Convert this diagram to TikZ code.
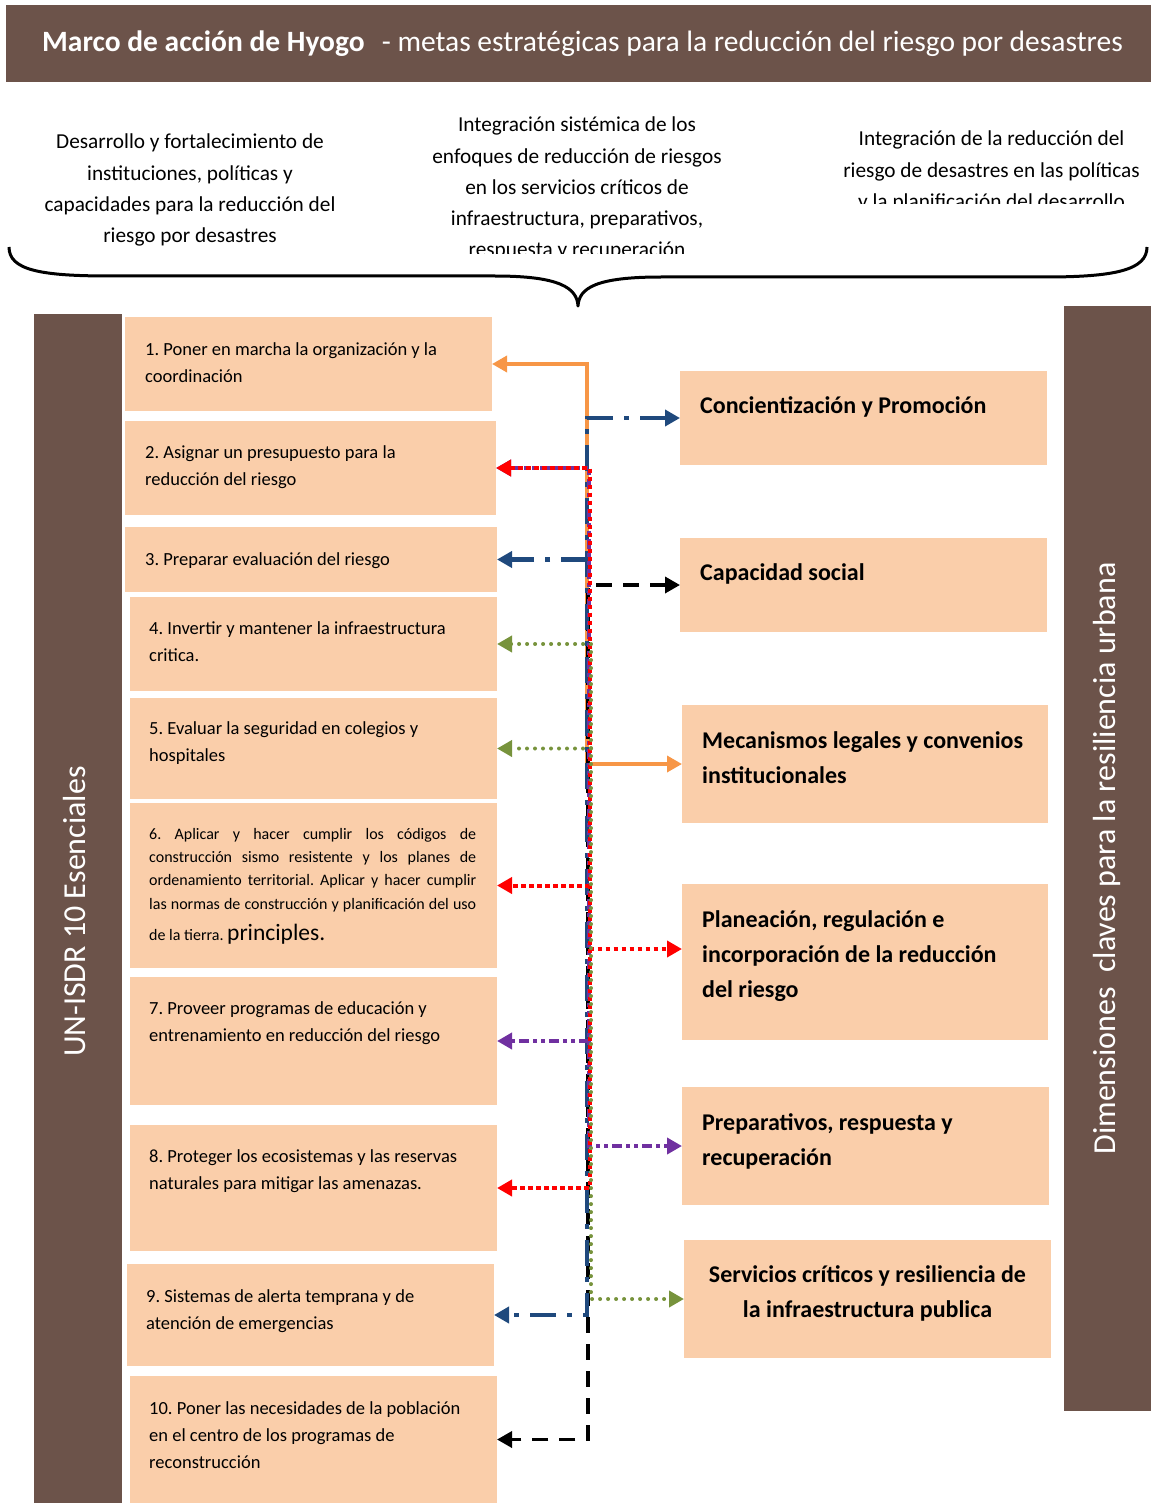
\documentclass[tikz,border=0pt]{standalone}
\usepackage{fontspec}
\setmainfont{Carlito}
\frenchspacing
\usetikzlibrary{arrows.meta}

\definecolor{bark}{HTML}{6C534A}
\definecolor{peach}{HTML}{FACEAA}
\definecolor{flowA}{HTML}{F79646}
\definecolor{flowB}{HTML}{1F497D}
\definecolor{flowC}{HTML}{FF0000}
\definecolor{flowD}{HTML}{7030A0}
\definecolor{flowE}{HTML}{77933C}

% use the font's own word spacing inside wrapped nodes
\newcommand{\plainspaces}{\spaceskip=0pt\relax\xspaceskip=0pt\relax}

\tikzset{
  panel/.style={fill=bark, draw=none, inner sep=0pt, outer sep=0pt},
  goal/.style={fill=peach, draw=none, inner sep=0pt, outer sep=0pt},
  goaltext/.style={anchor=base west, inner sep=0pt, text width=350pt,
    font=\fontsize{18.5pt}{27.3pt}\selectfont, execute at begin node=\plainspaces},
  dimtext/.style={anchor=base west, inner sep=0pt, text width=345pt,
    font=\fontsize{24pt}{35pt}\selectfont\bfseries, execute at begin node=\plainspaces},
  toptext/.style={anchor=base, inner sep=0pt, text width=340pt, align=flush center,
    font=\fontsize{21.3pt}{31.2pt}\selectfont, execute at begin node=\plainspaces},
  sidelabel/.style={rotate=90, anchor=base, inner sep=0pt, text=white,
    font=\fontsize{32pt}{36pt}\selectfont},
  onehead/.style={-{Triangle[length=15pt,width=16pt]}},
  twoheads/.style={{Triangle[length=15pt,width=16pt]}-{Triangle[length=15pt,width=16pt]}},
  linkA/.style={draw=flowA, line width=3.5pt},
  linkB/.style={draw=flowB, line width=4.5pt, dash pattern=on 26pt off 11pt on 5pt off 11pt},
  linkC/.style={draw=flowC, line width=4pt, dash pattern=on 4.5pt off 3.5pt},
  linkD/.style={draw=flowD, line width=4pt, dash pattern=on 10pt off 4pt on 4pt off 4pt on 4pt off 4pt},
  linkE/.style={draw=flowE, line width=4pt, line cap=round, dash pattern=on 0pt off 8pt},
  linkK/.style={draw=black, line width=3.5pt, dash pattern=on 16pt off 11pt},
}

\begin{document}
\begin{tikzpicture}[x=1pt, y=-1pt]
\useasboundingbox (0,0) rectangle (1151,1503);

% header bar
\node[panel, minimum width=1145pt, minimum height=77pt] (title) at (578.5,43.5) {};
\node[anchor=base west, inner sep=0pt, text=white, font=\fontsize{29.5pt}{32pt}\selectfont\bfseries]
  (titleA) at (42,52) {Marco de acción de Hyogo};
\node[anchor=base east, inner sep=0pt, text=white, font=\fontsize{29.5pt}{32pt}\selectfont]
  (titleB) at (1123,52) {- metas estratégicas para la reducción del riesgo por desastres};

% strategic goals
\node[toptext] (goalL) at (190,149) {Desarrollo y fortalecimiento de\\instituciones, políticas y\\capacidades para la reducción del\\riesgo por desastres};
\begin{scope}
  \clip (400,90) rectangle (760,254);
  \node[toptext] (goalM) at (577,132) {Integración sistémica de los\\enfoques de reducción de riesgos\\en los servicios críticos de\\infraestructura, preparativos,\\respuesta y recuperación};
\end{scope}
\begin{scope}
  \clip (815,90) rectangle (1151,204);
  \node[toptext] (goalR) at (991.5,146) {Integración de la reducción del\\riesgo de desastres en las políticas\\y la planificación del desarrollo};
\end{scope}

% curly brace
\draw[line width=3pt, line join=round]
  (9,247) .. controls (9,270) and (40,276) .. (110,276) -- (495,276)
  .. controls (560,276) and (577,288) .. (578,306)
  .. controls (579,288) and (596,277) .. (661,277) -- (1045,277)
  .. controls (1115,277) and (1147,270) .. (1147,247);

% side panels
\node[panel, minimum width=88pt, minimum height=1189pt] (leftbar) at (78,908.5) {};
\node[panel, minimum width=87pt, minimum height=1105pt] (rightbar) at (1107.5,858.5) {};
\node[sidelabel] (leftlabel) at (85,911.5) {UN-ISDR 10 Esenciales};
\node[sidelabel] (rightlabel) at (1115,858.5) {Dimensiones\ \ claves para la resiliencia urbana};

% ten essentials
\node[goal, minimum width=367pt, minimum height=94pt]  (l1)  at (308.5,364) {};
\node[goal, minimum width=371pt, minimum height=94pt]  (l2)  at (310.5,468) {};
\node[goal, minimum width=372pt, minimum height=65pt]  (l3)  at (311,559.5) {};
\node[goal, minimum width=367pt, minimum height=94pt]  (l4)  at (313.5,644) {};
\node[goal, minimum width=367pt, minimum height=101pt] (l5)  at (313.5,748.5) {};
\node[goal, minimum width=367pt, minimum height=165pt] (l6)  at (313.5,885.5) {};
\node[goal, minimum width=367pt, minimum height=128pt] (l7)  at (313.5,1041) {};
\node[goal, minimum width=367pt, minimum height=126pt] (l8)  at (313.5,1188) {};
\node[goal, minimum width=367pt, minimum height=102pt] (l9)  at (310.5,1315) {};
\node[goal, minimum width=367pt, minimum height=127pt] (l10) at (313.5,1439.5) {};

\node[goaltext] (t1) at (145,355)  {1. Poner en marcha la organización y la\\coordinación};
\node[goaltext] (t2) at (145,458)  {2. Asignar un presupuesto para la\\reducción del riesgo};
\node[goaltext] (t3) at (145,565)  {3. Preparar evaluación del riesgo};
\node[goaltext] (t4) at (149,634)  {4. Invertir y mantener la infraestructura\\critica.};
\node[goaltext] (t5) at (149,734)  {5. Evaluar la seguridad en colegios y\\hospitales};
\node[anchor=base west, inner sep=0pt, text width=327pt,
      font=\fontsize{16pt}{23.4pt}\selectfont] (t6) at (149,839) {\plainspaces
  \makebox[327pt][s]{6. Aplicar y hacer cumplir los códigos de}\\
  \makebox[327pt][s]{construcción sismo resistente y los planes de}\\
  \makebox[327pt][s]{ordenamiento territorial. Aplicar y hacer cumplir}\\
  \makebox[327pt][s]{las normas de construcción y planificación del uso}\\[7.5pt]
  de la tierra. {\fontsize{23.5pt}{28pt}\selectfont principles.}};
\node[goaltext] (t7) at (149,1014) {7. Proveer programas de educación y\\entrenamiento en reducción del riesgo};
\node[goaltext] (t8) at (149,1162) {8. Proteger los ecosistemas y las reservas\\naturales para mitigar las amenazas.};
\node[goaltext] (t9) at (146,1302) {9. Sistemas de alerta temprana y de\\atención de emergencias};
\node[goaltext] (t10) at (149,1414) {10. Poner las necesidades de la población\\en el centro de los programas de\\reconstrucción};

% key dimensions
\node[goal, minimum width=367pt, minimum height=94pt]  (r1) at (863.5,418) {};
\node[goal, minimum width=367pt, minimum height=94pt]  (r2) at (863.5,585) {};
\node[goal, minimum width=366pt, minimum height=118pt] (r3) at (865,764) {};
\node[goal, minimum width=366pt, minimum height=156pt] (r4) at (865,962) {};
\node[goal, minimum width=367pt, minimum height=118pt] (r5) at (865.5,1146) {};
\node[goal, minimum width=367pt, minimum height=118pt] (r6) at (867.5,1299) {};

\node[dimtext] (d1) at (700,413)  {Concientización y Promoción};
\node[dimtext] (d2) at (700,580)  {Capacidad social};
\node[dimtext] (d3) at (702,748)  {Mecanismos legales y convenios\\institucionales};
\node[dimtext] (d4) at (702,927)  {Planeación, regulación e\\incorporación de la reducción\\del riesgo};
\node[dimtext] (d5) at (702,1130) {Preparativos, respuesta y\\recuperación};
\node[dimtext, anchor=base, align=flush center, text width=360pt] (d6) at (867.5,1282) {Servicios críticos y resiliencia de\\la infraestructura publica};

% trunk positions of the connectors
\coordinate (xa) at (587,0);
\coordinate (xk) at (588,0);
\coordinate (xb) at (587,0);
\coordinate (xd) at (589,0);
\coordinate (xc) at (589.5,0);
\coordinate (xe) at (591,0);
\coordinate (r4in) at ([yshift=13pt]r4.west);

% connectors
\draw[linkA, twoheads] (l1.east) -- (l1.east -| xa) -- (r3.west -| xa) -- (r3.west);

\draw[linkK, twoheads] (r2.west) -- (r2.west -| xk) -- (l10.east -| xk) -- (l10.east);

\draw[linkB, twoheads] (r1.west) -- (r1.west -| xb) -- (l9.east -| xb) -- (l9.east);
\draw[linkB, onehead] (l3.east -| xb) -- (l3.east);

\draw[linkD, twoheads] (l2.east) -- (l2.east -| xd) -- (r5.west -| xd) -- (r5.west);
\draw[linkD, onehead] (l7.east -| xd) -- (l7.east);

\draw[linkC, twoheads] (l2.east) -- (l2.east -| xc) -- (l8.east -| xc) -- (l8.east);
\draw[linkC, onehead] (l6.east -| xc) -- (l6.east);
\draw[linkC, onehead] (r4in -| xc) -- (r4in);

\draw[linkE, twoheads] (l4.east) -- (l4.east -| xe) -- (r6.west -| xe) -- (r6.west);
\draw[linkE, onehead] (l5.east -| xe) -- (l5.east);
\end{tikzpicture}
\end{document}
